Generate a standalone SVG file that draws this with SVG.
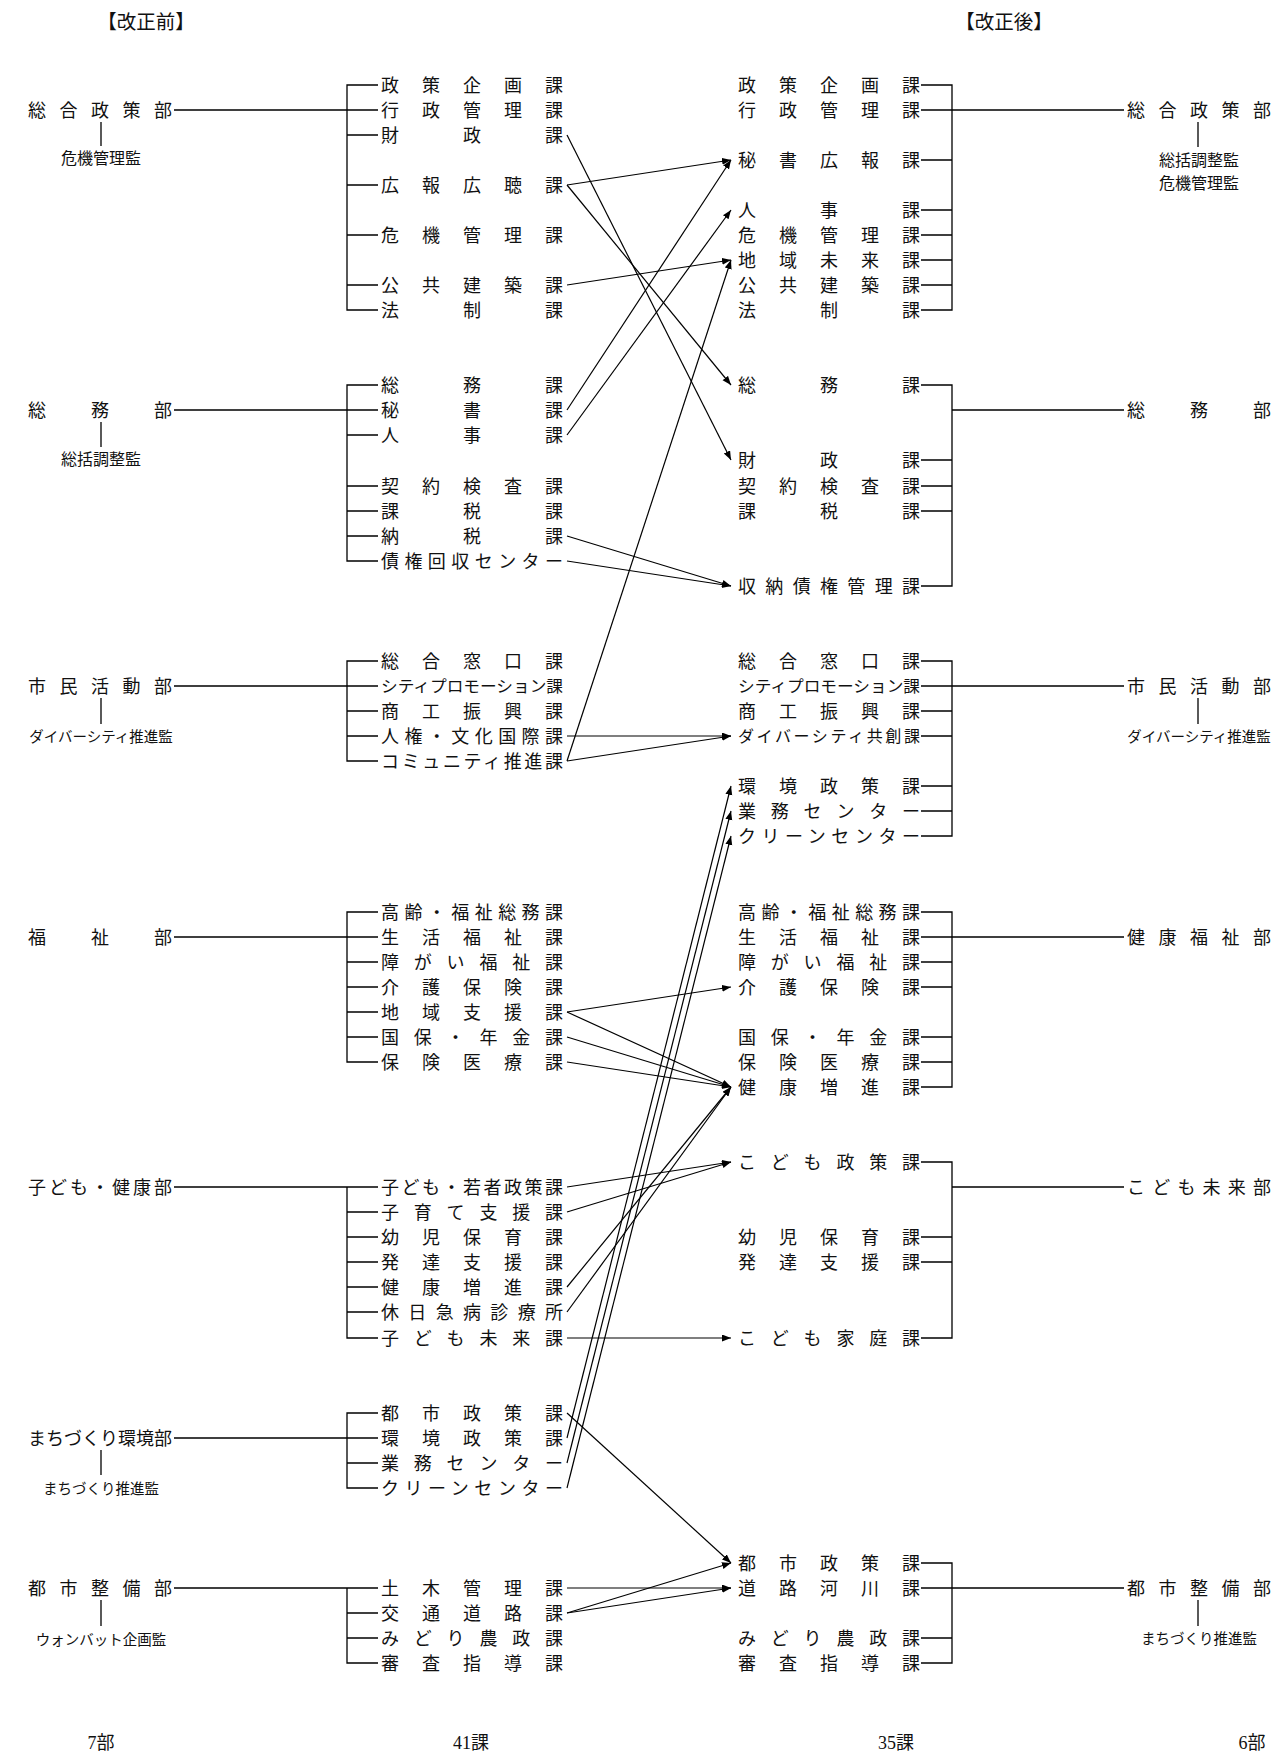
<svg xmlns="http://www.w3.org/2000/svg" width="1275" height="1755" viewBox="0 0 1275 1755">
<style>
text{font-family:"Noto Sans CJK JP","Noto Sans CJK SC",sans-serif;fill:#111;font-size:18px}
.sm{font-size:16px}
.xs{font-size:14.5px}
.hd{font-size:19.5px}
.ft{font-family:"Liberation Serif","Noto Sans CJK JP",serif;font-size:18px}
.ln{stroke:#000;stroke-width:1.3;fill:none}
.ar{stroke:#000;stroke-width:1.2;fill:none;marker-end:url(#ah)}
</style>
<defs>
<marker id="ah" markerUnits="userSpaceOnUse" markerWidth="10" markerHeight="8" refX="9" refY="3.5" orient="auto">
<path d="M0,0 L9,3.5 L0,7 z" fill="#000"/>
</marker>
</defs>
<rect width="1275" height="1755" fill="#fff"/>

<g id="headings">
<text class="hd" x="146" y="29" text-anchor="middle">【改正前】</text>
<text class="hd" x="1004" y="29" text-anchor="middle">【改正後】</text>
</g>

<!-- BEFORE -->
<g id="before-sogoseisaku">
<text x="28" y="116.6" textLength="144" lengthAdjust="spacing">総合政策部</text>
<path class="ln" d="M101,122 V146"/>
<text class="sm" x="101" y="164" text-anchor="middle">危機管理監</text>
<path class="ln" d="M174,110 H378 M378,85 H347 V310 H378 M347,135 H378 M347,185 H378 M347,235 H378 M347,285 H378"/>
<text x="381" y="91.8" textLength="182" lengthAdjust="spacing">政策企画課</text>
<text x="381" y="116.8" textLength="182" lengthAdjust="spacing">行政管理課</text>
<text x="381" y="141.8" textLength="182" lengthAdjust="spacing">財政課</text>
<text x="381" y="191.8" textLength="182" lengthAdjust="spacing">広報広聴課</text>
<text x="381" y="241.8" textLength="182" lengthAdjust="spacing">危機管理課</text>
<text x="381" y="291.8" textLength="182" lengthAdjust="spacing">公共建築課</text>
<text x="381" y="316.8" textLength="182" lengthAdjust="spacing">法制課</text>
</g>

<g id="before-somu">
<text x="28" y="417" textLength="144" lengthAdjust="spacing">総務部</text>
<path class="ln" d="M101,422 V447"/>
<text class="sm" x="101" y="465" text-anchor="middle">総括調整監</text>
<path class="ln" d="M174,410 H378 M378,385 H347 V561 H378 M347,435 H378 M347,486 H378 M347,511 H378 M347,536 H378"/>
<text x="381" y="391.8" textLength="182" lengthAdjust="spacing">総務課</text>
<text x="381" y="416.8" textLength="182" lengthAdjust="spacing">秘書課</text>
<text x="381" y="441.8" textLength="182" lengthAdjust="spacing">人事課</text>
<text x="381" y="492.8" textLength="182" lengthAdjust="spacing">契約検査課</text>
<text x="381" y="517.8" textLength="182" lengthAdjust="spacing">課税課</text>
<text x="381" y="542.8" textLength="182" lengthAdjust="spacing">納税課</text>
<text x="381" y="567.8" textLength="182" lengthAdjust="spacing">債権回収センター</text>
</g>

<g id="before-shimin">
<text x="28" y="692.8" textLength="144" lengthAdjust="spacing">市民活動部</text>
<path class="ln" d="M101,698 V724"/>
<text class="xs" x="101" y="741.5" text-anchor="middle">ダイバーシティ推進監</text>
<path class="ln" d="M174,686 H378 M378,661 H347 V761 H378 M347,711 H378 M347,736 H378"/>
<text x="381" y="667.8" textLength="182" lengthAdjust="spacing">総合窓口課</text>
<text class="sm" x="381" y="692" textLength="182" lengthAdjust="spacingAndGlyphs">シティプロモーション課</text>
<text x="381" y="717.8" textLength="182" lengthAdjust="spacing">商工振興課</text>
<text x="381" y="742.8" textLength="182" lengthAdjust="spacing">人権・文化国際課</text>
<text x="381" y="767.8" textLength="182" lengthAdjust="spacing">コミュニティ推進課</text>
</g>

<g id="before-fukushi">
<text x="28" y="943.8" textLength="144" lengthAdjust="spacing">福祉部</text>
<path class="ln" d="M174,937 H378 M378,912 H347 V1062 H378 M347,962 H378 M347,987 H378 M347,1012 H378 M347,1037 H378"/>
<text x="381" y="918.8" textLength="182" lengthAdjust="spacing">高齢・福祉総務課</text>
<text x="381" y="943.8" textLength="182" lengthAdjust="spacing">生活福祉課</text>
<text x="381" y="968.8" textLength="182" lengthAdjust="spacing">障がい福祉課</text>
<text x="381" y="993.8" textLength="182" lengthAdjust="spacing">介護保険課</text>
<text x="381" y="1018.8" textLength="182" lengthAdjust="spacing">地域支援課</text>
<text x="381" y="1043.8" textLength="182" lengthAdjust="spacing">国保・年金課</text>
<text x="381" y="1068.8" textLength="182" lengthAdjust="spacing">保険医療課</text>
</g>

<g id="before-kodomo">
<text x="28" y="1193.8" textLength="144" lengthAdjust="spacing">子ども・健康部</text>
<path class="ln" d="M174,1187 H378 M347,1187 V1338 H378 M347,1212 H378 M347,1237 H378 M347,1262 H378 M347,1287 H378 M347,1312 H378"/>
<text x="381" y="1193.8" textLength="182" lengthAdjust="spacing">子ども・若者政策課</text>
<text x="381" y="1218.8" textLength="182" lengthAdjust="spacing">子育て支援課</text>
<text x="381" y="1243.8" textLength="182" lengthAdjust="spacing">幼児保育課</text>
<text x="381" y="1268.8" textLength="182" lengthAdjust="spacing">発達支援課</text>
<text x="381" y="1293.8" textLength="182" lengthAdjust="spacing">健康増進課</text>
<text x="381" y="1318.8" textLength="182" lengthAdjust="spacing">休日急病診療所</text>
<text x="381" y="1344.8" textLength="182" lengthAdjust="spacing">子ども未来課</text>
</g>

<g id="before-machizukuri">
<text x="28" y="1444.8" textLength="144" lengthAdjust="spacingAndGlyphs">まちづくり環境部</text>
<path class="ln" d="M101,1450 V1475"/>
<text class="xs" x="101" y="1494" text-anchor="middle">まちづくり推進監</text>
<path class="ln" d="M174,1438 H378 M378,1413 H347 V1488 H378 M347,1463 H378"/>
<text x="381" y="1419.8" textLength="182" lengthAdjust="spacing">都市政策課</text>
<text x="381" y="1444.8" textLength="182" lengthAdjust="spacing">環境政策課</text>
<text x="381" y="1469.8" textLength="182" lengthAdjust="spacing">業務センター</text>
<text x="381" y="1494.8" textLength="182" lengthAdjust="spacing">クリーンセンター</text>
</g>

<g id="before-toshiseibi">
<text x="28" y="1594.8" textLength="144" lengthAdjust="spacing">都市整備部</text>
<path class="ln" d="M101,1600 V1626"/>
<text class="xs" x="101" y="1644.5" text-anchor="middle">ウォンバット企画監</text>
<path class="ln" d="M174,1588 H378 M347,1588 V1663 H378 M347,1613 H378 M347,1638 H378"/>
<text x="381" y="1594.8" textLength="182" lengthAdjust="spacing">土木管理課</text>
<text x="381" y="1619.8" textLength="182" lengthAdjust="spacing">交通道路課</text>
<text x="381" y="1644.8" textLength="182" lengthAdjust="spacing">みどり農政課</text>
<text x="381" y="1669.8" textLength="182" lengthAdjust="spacing">審査指導課</text>
</g>

<!-- AFTER -->
<g id="after-sogoseisaku">
<text x="738" y="91.8" textLength="182" lengthAdjust="spacing">政策企画課</text>
<text x="738" y="116.8" textLength="182" lengthAdjust="spacing">行政管理課</text>
<text x="738" y="166.8" textLength="182" lengthAdjust="spacing">秘書広報課</text>
<text x="738" y="216.8" textLength="182" lengthAdjust="spacing">人事課</text>
<text x="738" y="241.8" textLength="182" lengthAdjust="spacing">危機管理課</text>
<text x="738" y="266.8" textLength="182" lengthAdjust="spacing">地域未来課</text>
<text x="738" y="291.8" textLength="182" lengthAdjust="spacing">公共建築課</text>
<text x="738" y="316.8" textLength="182" lengthAdjust="spacing">法制課</text>
<path class="ln" d="M921,85 H952 V310 H921 M921,110 H1124 M921,160 H952 M921,210 H952 M921,235 H952 M921,260 H952 M921,285 H952"/>
<text x="1127" y="116.8" textLength="144" lengthAdjust="spacing">総合政策部</text>
<path class="ln" d="M1198,122 V147"/>
<text class="sm" x="1199" y="166" text-anchor="middle">総括調整監</text>
<text class="sm" x="1199" y="189" text-anchor="middle">危機管理監</text>
</g>

<g id="after-somu">
<text x="738" y="391.8" textLength="182" lengthAdjust="spacing">総務課</text>
<text x="738" y="466.8" textLength="182" lengthAdjust="spacing">財政課</text>
<text x="738" y="492.8" textLength="182" lengthAdjust="spacing">契約検査課</text>
<text x="738" y="517.8" textLength="182" lengthAdjust="spacing">課税課</text>
<text x="738" y="592.8" textLength="182" lengthAdjust="spacing">収納債権管理課</text>
<path class="ln" d="M921,385 H952 V586 H921 M921,460 H952 M921,486 H952 M921,511 H952 M952,410 H1124"/>
<text x="1127" y="416.8" textLength="144" lengthAdjust="spacing">総務部</text>
</g>

<g id="after-shimin">
<text x="738" y="667.8" textLength="182" lengthAdjust="spacing">総合窓口課</text>
<text class="sm" x="738" y="692" textLength="182" lengthAdjust="spacingAndGlyphs">シティプロモーション課</text>
<text x="738" y="717.8" textLength="182" lengthAdjust="spacing">商工振興課</text>
<text class="sm" x="738" y="742" textLength="182" lengthAdjust="spacing">ダイバーシティ共創課</text>
<text x="738" y="792.8" textLength="182" lengthAdjust="spacing">環境政策課</text>
<text x="738" y="817.8" textLength="182" lengthAdjust="spacing">業務センター</text>
<text x="738" y="842.8" textLength="182" lengthAdjust="spacing">クリーンセンター</text>
<path class="ln" d="M921,661 H952 V836 H921 M921,686 H1124 M921,711 H952 M921,736 H952 M921,786 H952 M921,811 H952"/>
<text x="1127" y="692.8" textLength="144" lengthAdjust="spacing">市民活動部</text>
<path class="ln" d="M1198,698 V724"/>
<text class="xs" x="1199" y="741.5" text-anchor="middle">ダイバーシティ推進監</text>
</g>

<g id="after-kenkofukushi">
<text x="738" y="918.8" textLength="182" lengthAdjust="spacing">高齢・福祉総務課</text>
<text x="738" y="943.8" textLength="182" lengthAdjust="spacing">生活福祉課</text>
<text x="738" y="968.8" textLength="182" lengthAdjust="spacing">障がい福祉課</text>
<text x="738" y="993.8" textLength="182" lengthAdjust="spacing">介護保険課</text>
<text x="738" y="1043.8" textLength="182" lengthAdjust="spacing">国保・年金課</text>
<text x="738" y="1068.8" textLength="182" lengthAdjust="spacing">保険医療課</text>
<text x="738" y="1093.8" textLength="182" lengthAdjust="spacing">健康増進課</text>
<path class="ln" d="M921,912 H952 V1087 H921 M921,937 H1124 M921,962 H952 M921,987 H952 M921,1037 H952 M921,1062 H952"/>
<text x="1127" y="943.8" textLength="144" lengthAdjust="spacing">健康福祉部</text>
</g>

<g id="after-kodomomirai">
<text x="738" y="1168.8" textLength="182" lengthAdjust="spacing">こども政策課</text>
<text x="738" y="1243.8" textLength="182" lengthAdjust="spacing">幼児保育課</text>
<text x="738" y="1268.8" textLength="182" lengthAdjust="spacing">発達支援課</text>
<text x="738" y="1344.8" textLength="182" lengthAdjust="spacing">こども家庭課</text>
<path class="ln" d="M921,1162 H952 V1338 H921 M921,1237 H952 M921,1262 H952 M952,1187 H1124"/>
<text x="1127" y="1193.8" textLength="144" lengthAdjust="spacing">こども未来部</text>
</g>

<g id="after-toshiseibi">
<text x="738" y="1569.8" textLength="182" lengthAdjust="spacing">都市政策課</text>
<text x="738" y="1594.8" textLength="182" lengthAdjust="spacing">道路河川課</text>
<text x="738" y="1644.8" textLength="182" lengthAdjust="spacing">みどり農政課</text>
<text x="738" y="1669.8" textLength="182" lengthAdjust="spacing">審査指導課</text>
<path class="ln" d="M921,1563 H952 V1663 H921 M921,1588 H1124 M921,1638 H952"/>
<text x="1127" y="1594.8" textLength="144" lengthAdjust="spacing">都市整備部</text>
<path class="ln" d="M1198,1600 V1626"/>
<text class="xs" x="1199" y="1644" text-anchor="middle">まちづくり推進監</text>
</g>

<g id="connectors">
<path class="ar" d="M567,135 L731,460"/>
<path class="ar" d="M567,185 L731,160"/>
<path class="ar" d="M567,185 L731,385"/>
<path class="ar" d="M567,285 L731,260"/>
<path class="ar" d="M567,410 L731,160"/>
<path class="ar" d="M567,435 L731,210"/>
<path class="ar" d="M567,536 L731,586"/>
<path class="ar" d="M567,561 L731,586"/>
<path class="ar" d="M567,736 L731,736"/>
<path class="ar" d="M567,761 L731,736"/>
<path class="ar" d="M567,761 L731,260"/>
<path class="ar" d="M567,1012 L731,987"/>
<path class="ar" d="M567,1012 L731,1087"/>
<path class="ar" d="M567,1037 L731,1087"/>
<path class="ar" d="M567,1062 L731,1087"/>
<path class="ar" d="M567,1187 L731,1162"/>
<path class="ar" d="M567,1212 L731,1162"/>
<path class="ar" d="M567,1287 L731,1087"/>
<path class="ar" d="M567,1312 L731,1087"/>
<path class="ar" d="M567,1338 L731,1338"/>
<path class="ar" d="M567,1413 L731,1563"/>
<path class="ar" d="M567,1438 L731,786"/>
<path class="ar" d="M567,1463 L731,811"/>
<path class="ar" d="M567,1488 L731,836"/>
<path class="ar" d="M567,1588 L731,1588"/>
<path class="ar" d="M567,1613 L731,1588"/>
<path class="ar" d="M567,1613 L731,1563"/>
</g>

<g id="totals">
<text class="ft" x="101" y="1749" text-anchor="middle">7部</text>
<text class="ft" x="471" y="1749" text-anchor="middle">41課</text>
<text class="ft" x="896" y="1749" text-anchor="middle">35課</text>
<text class="ft" x="1252" y="1749" text-anchor="middle">6部</text>
</g>
</svg>
